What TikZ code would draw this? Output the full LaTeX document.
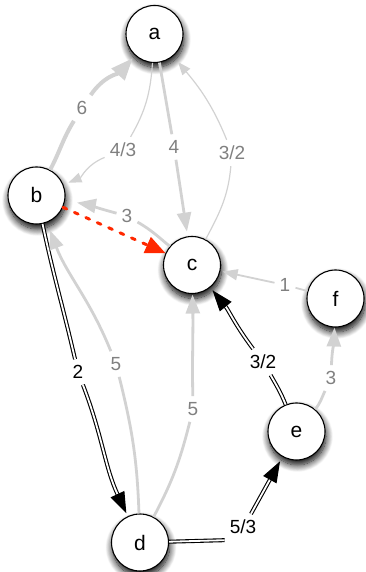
\documentclass[tikz,border=0pt]{standalone}
\usepackage{fontspec}
\setmainfont{Liberation Sans}
\usetikzlibrary{arrows.meta,shadows.blur}
\definecolor{edgegray}{RGB}{210,210,210}
\definecolor{labgray}{RGB}{128,128,128}
\definecolor{hot}{RGB}{255,40,0}
\begin{document}
\begin{tikzpicture}[x=1pt,y=1pt,
  vertex/.style={circle,draw=black,line width=1.1pt,fill=white,minimum size=57pt,inner sep=0pt,
    font=\fontsize{21}{24}\selectfont,
    blur shadow={shadow xshift=1pt,shadow yshift=-5pt,shadow blur radius=7pt,shadow blur steps=12,shadow opacity=100}},
  lab/.style={inner xsep=5pt,inner ysep=6pt,font=\fontsize{19}{22}\selectfont,text=labgray},
  blab/.style={lab,text=black},
  thickedge/.style={draw=edgegray,line width=4pt,-{Triangle[length=22pt,width=17pt]}},
  midedge/.style={draw=edgegray,line width=2.8pt,-{Triangle[length=19pt,width=14pt]}},
  oneedge/.style={draw=edgegray,line width=1.8pt,-{Triangle[length=15pt,width=11pt]}},
  thinedge/.style={draw=edgegray,line width=1.2pt,-{Triangle[length=13pt,width=10pt]}},
  dbl/.style={draw=black,double=white,double distance=1.8pt,line width=1.1pt,-{Triangle[length=21pt,width=15pt]}},
  redge/.style={draw=hot,line width=3pt,dash pattern=on 4pt off 8.5pt,line cap=round,-{Triangle[length=20pt,width=17pt]}}
]
\useasboundingbox (0,0) rectangle (366,572);
% vertices
\node[vertex] (a) at (154.5,538) {a};
\node[vertex] (b) at (36.5,376.5) {b};
\node[vertex] (c) at (192,307) {c};
\node[vertex] (f) at (335.5,273.5) {f};
\node[vertex] (e) at (296.5,140.5) {e};
\node[vertex] (d) at (140,29.5) {d};
% labels
\node[lab] (l6) at (82,464) {6};
\node[lab] (l43) at (123,422) {4/3};
\node[lab] (l4) at (174,425) {4};
\node[lab] (l32a) at (232,419) {3/2};
\node[lab] (l3b) at (127,356) {3};
\node[blab] (l2) at (78,200) {2};
\node[lab] (l5b) at (116,208) {5};
\node[lab] (l5c) at (193,163) {5};
\node[blab] (l32e) at (263,210) {3/2};
\node[lab] (l1) at (285,287) {1};
\node[lab] (l3f) at (331,194) {3};
\node[blab] (l53) at (243,45) {5/3};
% edges
\draw[thickedge,shorten >=3.5pt] (b) to[out=62,in=238] (l6) to[out=56,in=228] (a);
\draw[thinedge,shorten >=5.5pt] (a) to[out=266,in=60] (l43) to[out=202,in=22] (b);
\draw[midedge,shorten >=4.7pt] (a) -- (l4) -- (c);
\draw[thinedge,shorten >=7.5pt] (c) to[out=62,in=265] (l32a) to[out=112,in=310] (a);
\draw[midedge,shorten >=12pt] (c) to[out=140,in=330] (l3b) to[out=165,in=350] (b);
\draw[redge] (b) -- (c);
\draw[dbl,shorten >=3.3pt] (b) to[out=282,in=103] (l2) to[out=291,in=115] (d);
\draw[midedge,shorten >=8pt] (d) to[out=92,in=284] (l5b) to[out=112,in=291] (b);
\draw[midedge,shorten >=0.5pt] (d) to[out=62,in=256] (l5c) to[out=91,in=271] (c);
\draw[dbl,shorten >=3.5pt] (e) to[out=112,in=300] (l32e) to[out=127,in=309] (c);
\draw[dbl,shorten >=5pt] (d) -- (l53.south west) ([xshift=8pt]l53.north) -- (e);
\draw[oneedge,shorten >=2.3pt] (f) -- (l1) -- (c);
\draw[midedge] (e) to[out=50,in=245] (l3f) to[out=88,in=268] (f);
\end{tikzpicture}
\end{document}
